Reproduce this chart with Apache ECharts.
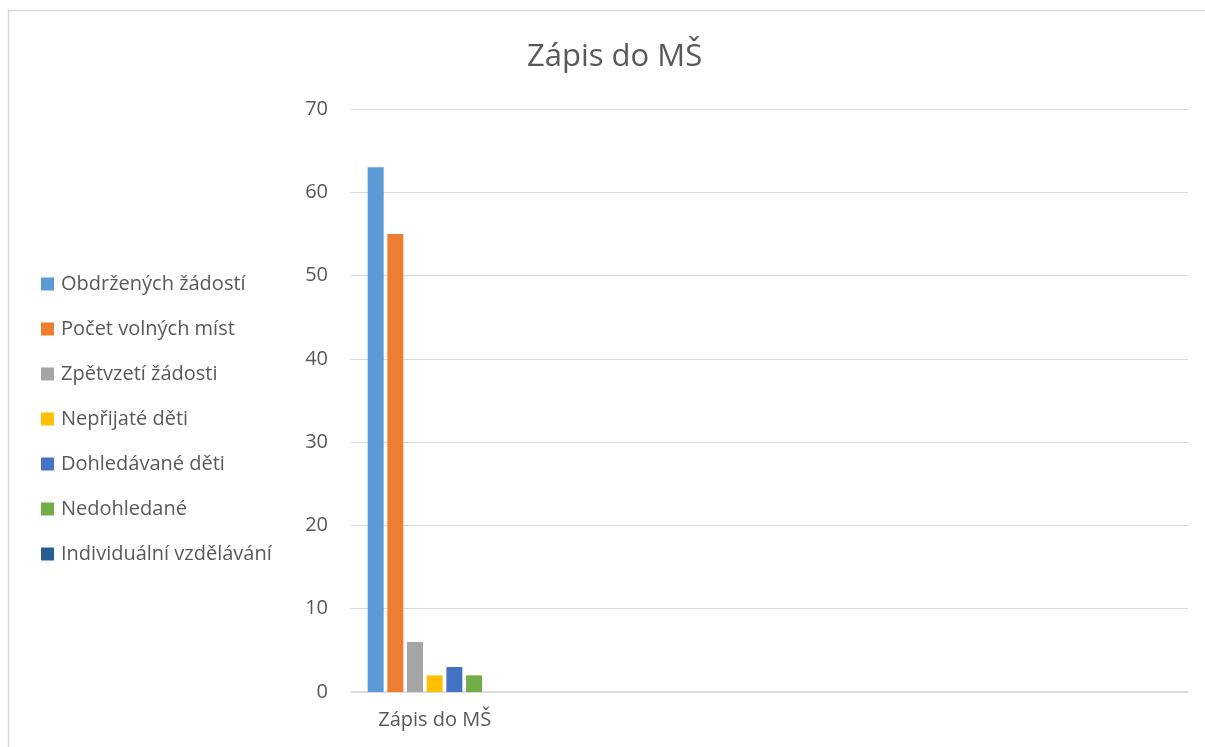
<!DOCTYPE html>
<html>
<head>
<meta charset="utf-8">
<script src="https://cdn.jsdelivr.net/npm/echarts@6/dist/echarts.min.js"></script>
<style>
  html, body { margin: 0; padding: 0; background: #fff; }
  #chart { width: 1205px; height: 747px; }
</style>
</head>
<body>
<div id="chart"></div>
<script>
// kategorie (jen první má data, ostatní jsou prázdné sloupce v Excelu)
var categories = ['Zápis do MŠ', '', '', '', ''];
var seriesNames = [
  'Obdržených žádostí',
  'Počet volných míst',
  'Zpětvzetí žádosti',
  'Nepřijaté děti',
  'Dohledávané děti',
  'Nedohledané',
  'Individuální vzdělávání'
];
var seriesValues = [63, 55, 6, 2, 3, 2, 0];
var colors = ['#5B9BD5', '#ED7D31', '#A5A5A5', '#FFC000', '#4472C4', '#70AD47', '#255E91'];

var myChart = echarts.init(document.getElementById('chart'));

var series = seriesNames.map(function (name, i) {
  return {
    name: name,
    type: 'bar',
    barWidth: 16,
    barGap: '23%',
    itemStyle: { color: colors[i] },
    data: [seriesValues[i]]
  };
});

myChart.setOption({
  animation: false,
  textStyle: { fontFamily: 'Open Sans, sans-serif' },
  color: colors,
  title: {
    text: 'Zápis do MŠ',
    left: 522,
    top: 37,
    textStyle: { fontSize: 31, fontWeight: 'normal', color: '#595959', fontFamily: 'Open Sans, sans-serif' }
  },
  legend: {
    orient: 'vertical',
    left: 36,
    top: 269,
    itemWidth: 13,
    itemHeight: 13,
    itemGap: 25,
    icon: 'rect',
    textStyle: { fontSize: 20, lineHeight: 20, color: '#595959', padding: [0, 0, 0, 2] }
  },
  grid: { left: 351, right: 17, top: 109, bottom: 55 },
  xAxis: {
    type: 'category',
    data: categories,
    axisLine: { lineStyle: { color: '#d9d9d9', width: 1.5 } },
    axisTick: { show: false },
    axisLabel: { fontSize: 20, color: '#595959', margin: 18 }
  },
  yAxis: {
    type: 'value',
    min: 0,
    max: 70,
    interval: 10,
    axisLine: { show: false },
    axisTick: { show: false },
    axisLabel: { fontSize: 20, color: '#595959', margin: 23 },
    splitLine: { lineStyle: { color: '#d9d9d9', width: 1 } }
  },
  graphic: [{
    type: 'rect',
    shape: { x: 8.5, y: 10.5, width: 1300, height: 900 },
    style: { fill: 'none', stroke: '#d9d9d9', lineWidth: 1.5 },
    silent: true
  }],
  series: series
});
</script>
</body>
</html>
